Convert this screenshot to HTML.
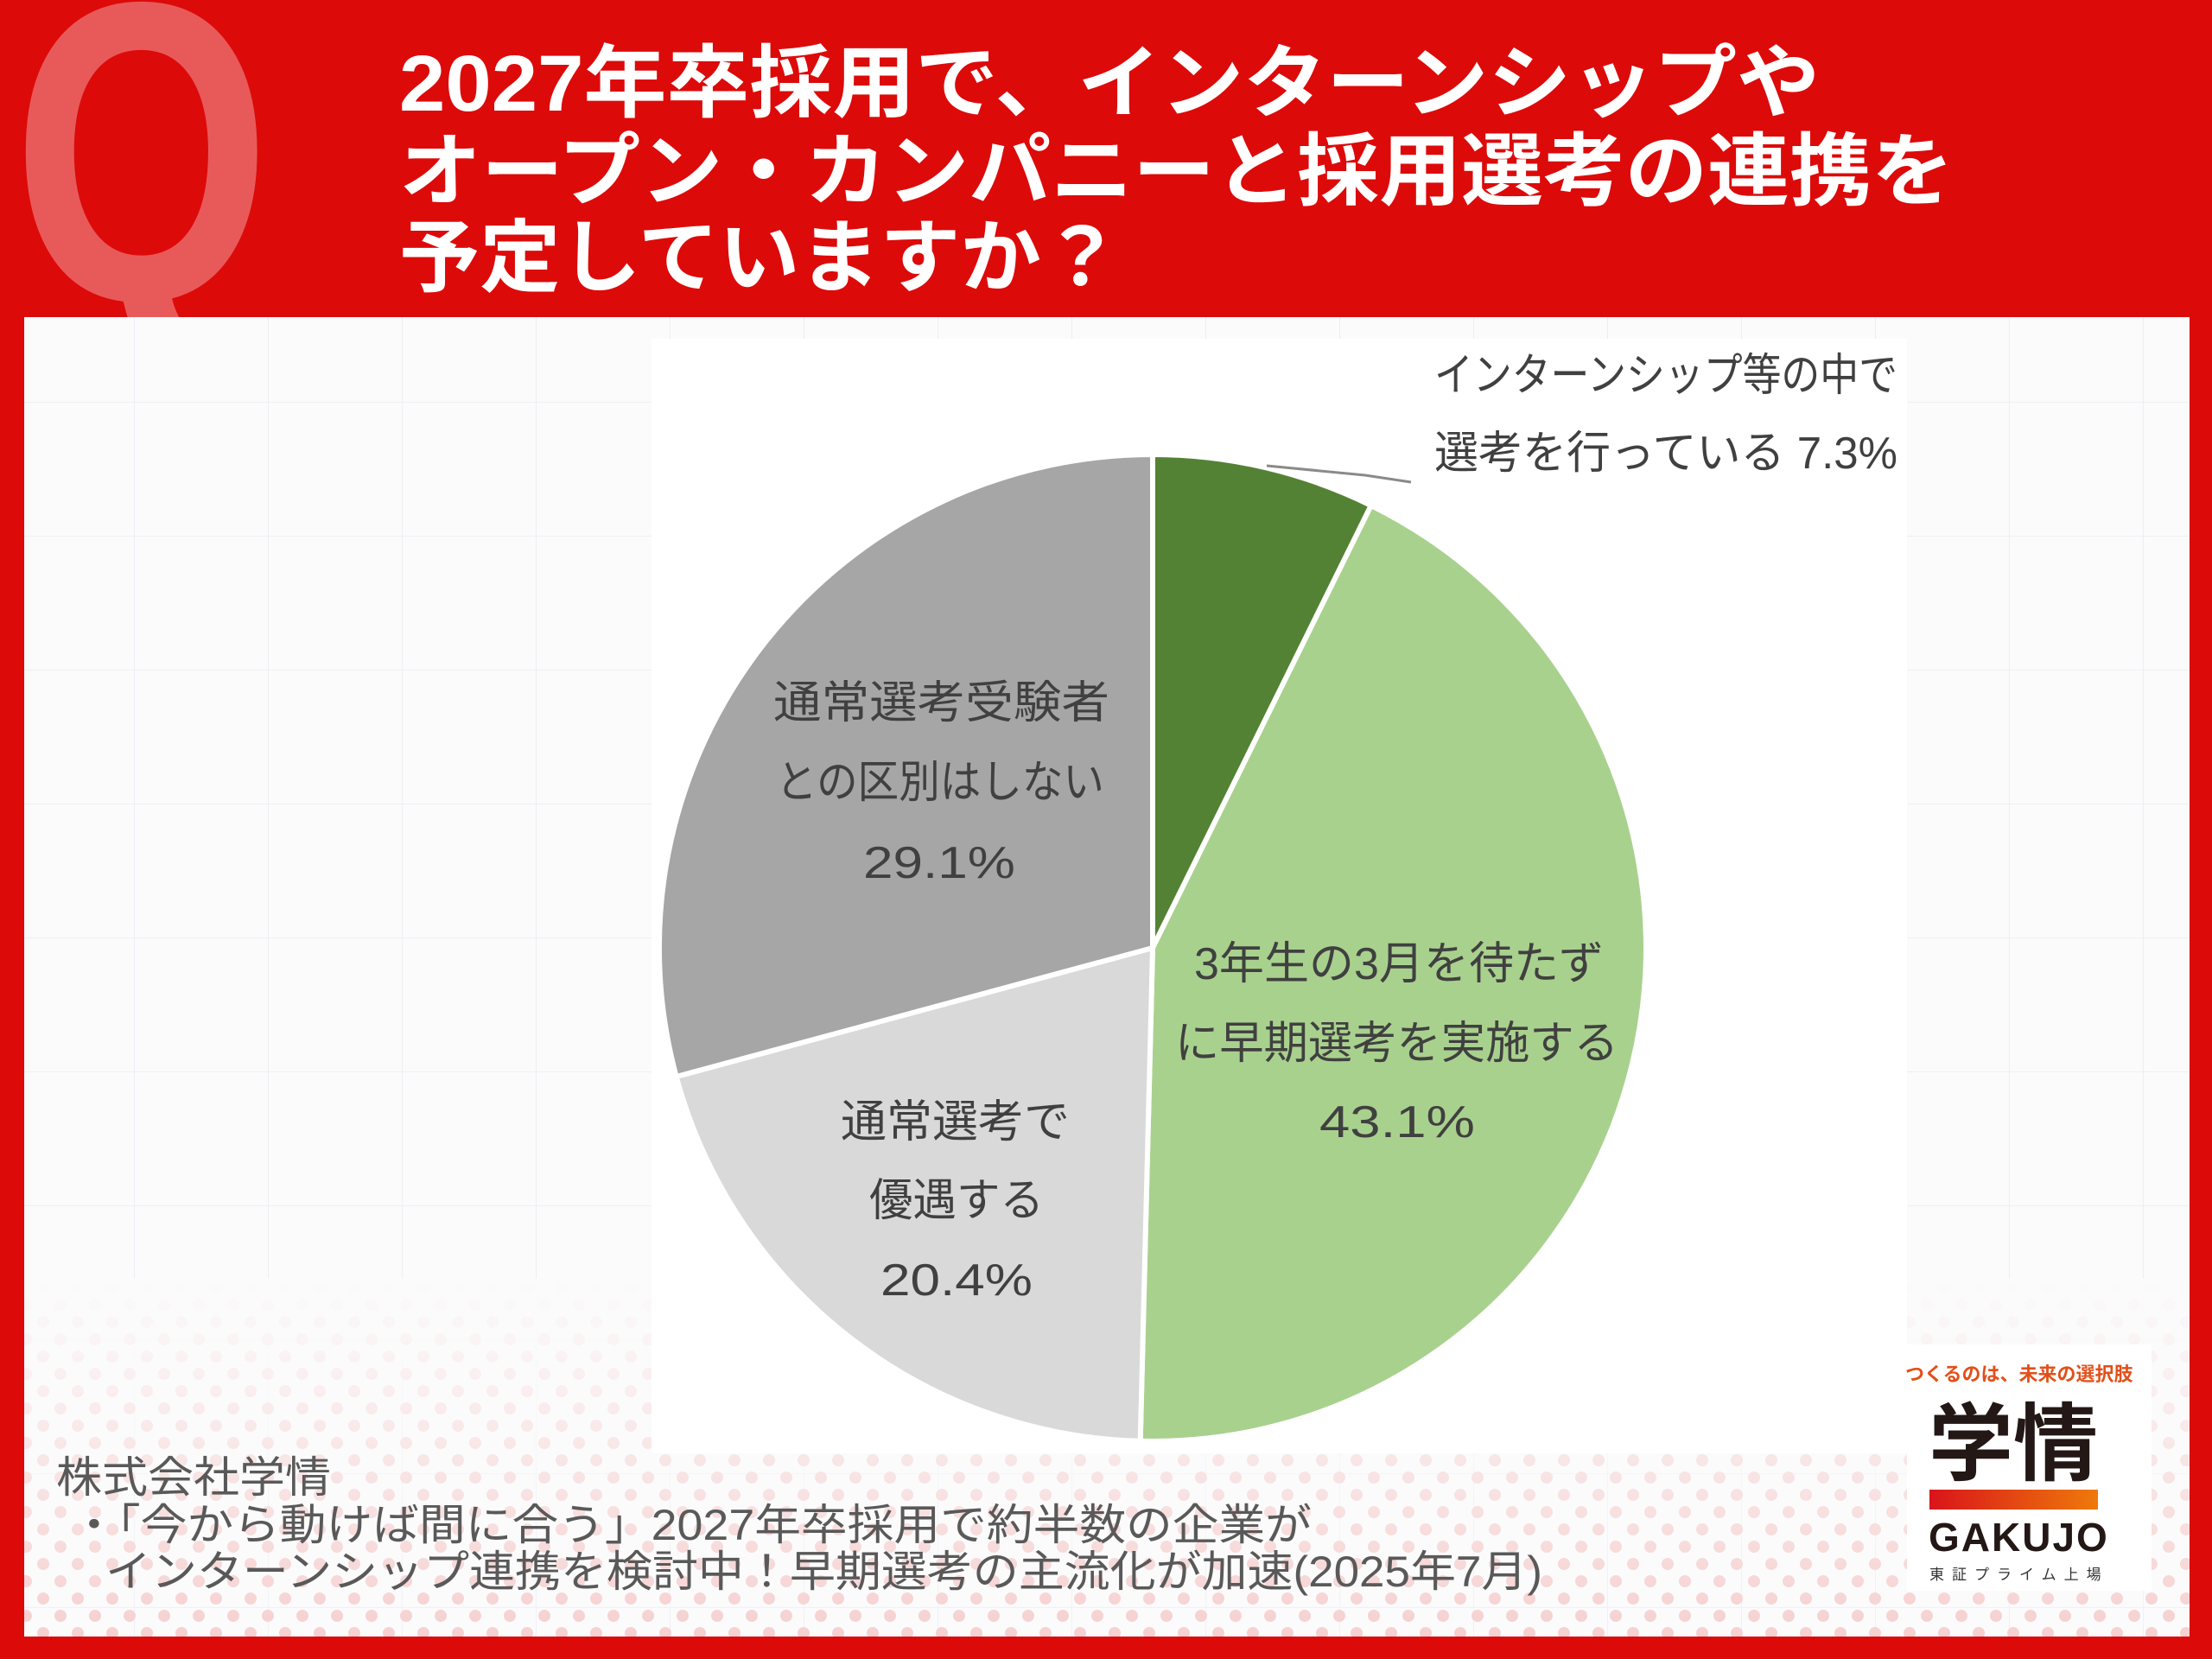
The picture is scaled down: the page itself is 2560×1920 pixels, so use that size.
<!DOCTYPE html>
<html><head><meta charset="utf-8"><style>
html,body{margin:0;padding:0;background:#dd0a0a;}
svg{display:block}
text{font-family:"Liberation Sans","Noto Sans CJK JP",sans-serif;}
</style></head><body>
<svg width="2560" height="1920" viewBox="0 0 2560 1920" xmlns="http://www.w3.org/2000/svg">
<defs>
<pattern id="dots" width="40" height="40" patternUnits="userSpaceOnUse">
<circle cx="10" cy="10" r="7" fill="#f5c6c6"/><circle cx="30" cy="30" r="7" fill="#f5c6c6"/>
</pattern>
<linearGradient id="fade" x1="0" y1="0" x2="0" y2="1">
<stop offset="0" stop-color="#fbfbfc" stop-opacity="1"/><stop offset="1" stop-color="#fbfbfc" stop-opacity="0.2"/>
</linearGradient>
<pattern id="grid" width="155" height="155" patternUnits="userSpaceOnUse">
<path d="M0 0H155M0 0V155" stroke="#eceef3" stroke-width="2" fill="none"/>
</pattern>
<linearGradient id="bar" x1="0" x2="1"><stop offset="0" stop-color="#d9141a"/><stop offset="1" stop-color="#ee7a0a"/></linearGradient>
</defs>
<rect width="2560" height="1920" fill="#dd0a0a"/>
<text transform="translate(14,0) scale(0.82,1.05)" x="0" y="330" font-size="470" font-weight="bold" fill="#e85a5a" font-family="Liberation Sans,sans-serif">Q</text>
<rect x="28" y="367" width="2506" height="1527" fill="#fbfbfc"/>
<rect x="28" y="367" width="2506" height="1527" fill="url(#grid)"/>
<rect x="28" y="1480" width="2506" height="414" fill="url(#dots)"/>
<rect x="28" y="1480" width="2506" height="414" fill="url(#fade)"/>
<g fill="#fff" font-weight="bold" font-size="92">
<text x="462" y="128" textLength="1644" lengthAdjust="spacingAndGlyphs">2027年卒採用で、インターンシップや</text>
<text x="462" y="230" textLength="1799" lengthAdjust="spacingAndGlyphs">オープン・カンパニーと採用選考の連携を</text>
<text x="462" y="330" textLength="836" lengthAdjust="spacingAndGlyphs">予定していますか？</text>
</g>
<rect x="754" y="392" width="1453" height="1290" fill="#fff"/>
<g stroke="#fff" stroke-width="6" stroke-linejoin="round">
<path d="M1334 1097 L1334 526 A571 571 0 0 1 1586.8 585 Z" fill="#548235"/>
<path d="M1334 1097 L1586.8 585 A571 571 0 0 1 1319.7 1667.8 Z" fill="#a9d18e"/>
<path d="M1334 1097 L1319.7 1667.8 A571 571 0 0 1 782.7 1246 Z" fill="#d9d9d9"/>
<path d="M1334 1097 L782.7 1246 A571 571 0 0 1 1334 526 Z" fill="#a6a6a6"/>
</g>
<path d="M1466 539 L1580 550 L1633 558" stroke="#8a8a8a" stroke-width="3" fill="none"/>
<g fill="#404040" font-size="52" lengthAdjust="spacingAndGlyphs">
<text x="1660" y="452" textLength="536" lengthAdjust="spacingAndGlyphs">インターンシップ等の中で</text>
<text x="1660" y="542" textLength="536" lengthAdjust="spacingAndGlyphs">選考を行っている 7.3%</text>
<text x="895" y="831" textLength="389" lengthAdjust="spacingAndGlyphs">通常選考受験者</text>
<text x="898" y="923" textLength="380" lengthAdjust="spacingAndGlyphs">との区別はしない</text>
<text x="999" y="1016" textLength="176" lengthAdjust="spacingAndGlyphs">29.1%</text>
<text x="1382" y="1133" textLength="474" lengthAdjust="spacingAndGlyphs">3年生の3月を待たず</text>
<text x="1360" y="1225" textLength="513" lengthAdjust="spacingAndGlyphs">に早期選考を実施する</text>
<text x="1527" y="1316" textLength="180" lengthAdjust="spacingAndGlyphs">43.1%</text>
<text x="973" y="1316" textLength="265" lengthAdjust="spacingAndGlyphs">通常選考で</text>
<text x="1006" y="1407" textLength="202" lengthAdjust="spacingAndGlyphs">優遇する</text>
<text x="1019" y="1499" textLength="176" lengthAdjust="spacingAndGlyphs">20.4%</text>
</g>
<g fill="#595959" font-size="50">
<text x="65" y="1727" textLength="318" lengthAdjust="spacingAndGlyphs">株式会社学情</text>
<text x="82" y="1782" textLength="1436" lengthAdjust="spacingAndGlyphs">・「今から動けば間に合う」2027年卒採用で約半数の企業が</text>
<text x="122" y="1836" textLength="1663" lengthAdjust="spacingAndGlyphs">インターンシップ連携を検討中！早期選考の主流化が加速(2025年7月)</text>
</g>
<rect x="2207" y="1556" width="283" height="285" fill="#fff"/>
<text x="2205" y="1598" font-size="22" font-weight="bold" fill="#e2501a">つくるのは、未来の選択肢</text>
<text x="2232" y="1705" font-size="98" font-weight="bold" fill="#231815">学情</text>
<rect x="2233" y="1724" width="195" height="23" fill="url(#bar)"/>
<text x="2232" y="1795" font-size="46" font-weight="bold" fill="#231815" letter-spacing="2">GAKUJO</text>
<text x="2233" y="1828" font-size="17" fill="#333" letter-spacing="9">東証プライム上場</text>
</svg>
</body></html>
